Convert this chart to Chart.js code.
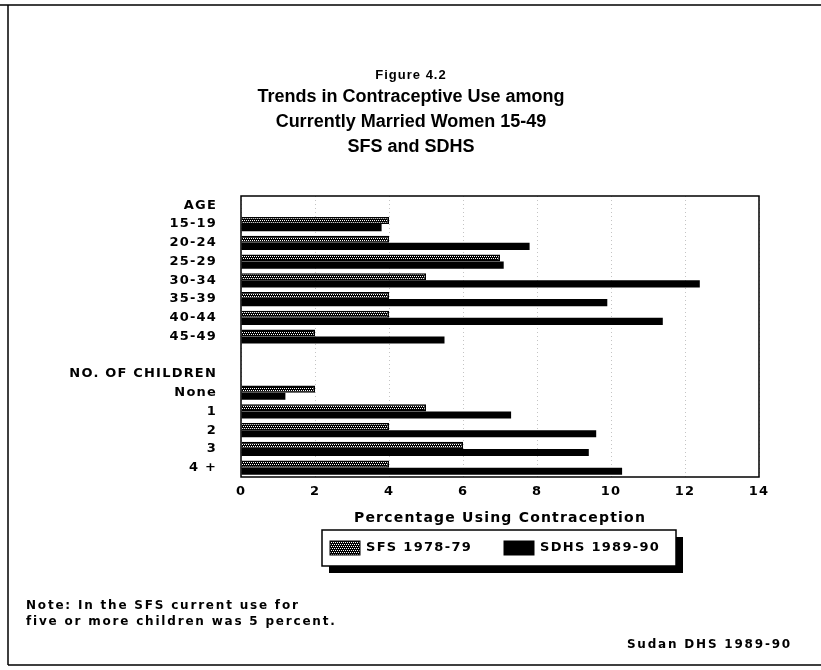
<!DOCTYPE html>
<html>
<head>
<meta charset="utf-8">
<script src="https://cdn.jsdelivr.net/npm/chart.js@4.4.0/dist/chart.umd.min.js"></script>
<style>
  html, body { margin: 0; padding: 0; background: #fff; }
  #contenedor { position: relative; width: 821px; height: 670px; }
</style>
</head>
<body>
<div id="contenedor"><canvas id="graficaUso"></canvas></div>
<script>
// datos
const gruposEdad = ['15-19', '20-24', '25-29', '30-34', '35-39', '40-44', '45-49'];
const gruposHijos = ['None', '1', '2', '3', '4 +'];
const sfsEdad = [4, 4, 7, 5, 4, 4, 2];
const sdhsEdad = [3.8, 7.8, 7.1, 12.4, 9.9, 11.4, 5.5];
const sfsHijos = [2, 5, 4, 6, 4];
const sdhsHijos = [1.2, 7.3, 9.6, 9.4, 10.3];
const ejeX = { min: 0, max: 14, paso: 2 };

const titulos = ['Trends in Contraceptive Use among', 'Currently Married Women 15-49', 'SFS and SDHS'];
const notas = ['Note: In the SFS current use for', 'five or more children was 5 percent.'];
const fuente = 'Sudan DHS 1989-90';

const etiquetas = ['AGE', ...gruposEdad, '', 'NO. OF CHILDREN', ...gruposHijos];
const datosSfs = [null, ...sfsEdad, null, null, ...sfsHijos];
const datosSdhs = [null, ...sdhsEdad, null, null, ...sdhsHijos];

const FAMILIA = '"Liberation Sans", Arial, Helvetica, sans-serif';
const ANCHA = '"DejaVu Sans", Verdana, sans-serif';

function crearTrama() {
    const c = document.createElement('canvas');
    c.width = 4; c.height = 4;
    const g = c.getContext('2d');
    g.fillStyle = '#000';
    g.fillRect(0, 0, 4, 4);
    g.fillStyle = '#fff';
    [[0, 0], [2, 0], [1, 2], [3, 2]].forEach(([x, y]) => g.fillRect(x, y, 1, 1));
    return g.createPattern(c, 'repeat');
}

function escribir(ctx, str, x, y, size, align, espacio, familia) {
    ctx.save();
    ctx.font = `bold ${size}px ${familia || ANCHA}`;
    ctx.letterSpacing = espacio + 'px';
    ctx.textAlign = align;
    ctx.textBaseline = 'middle';
    ctx.fillStyle = '#000';
    ctx.fillText(str, x, y);
    ctx.restore();
}

const marco = {
    id: 'marco',
    beforeDraw(chart) {
        const ctx = chart.ctx;
        ctx.save();
        ctx.fillStyle = '#fff';
        ctx.fillRect(0, 0, chart.width, chart.height);
        ctx.restore();
        ctx.letterSpacing = '1.2px';
    },
    afterDraw(chart) {
        const ctx = chart.ctx;
        const a = chart.chartArea;
        ctx.save();
        ctx.letterSpacing = '0px';
        ctx.strokeStyle = '#000';

        // caja del grafico
        ctx.lineWidth = 1.5;
        ctx.strokeRect(a.left, a.top, a.right - a.left, a.bottom - a.top);

        // marco exterior
        ctx.beginPath();
        ctx.moveTo(0, 5); ctx.lineTo(821, 5);
        ctx.moveTo(8, 5); ctx.lineTo(8, 665);
        ctx.moveTo(8, 665); ctx.lineTo(821, 665);
        ctx.stroke();
        ctx.restore();

        // titulos
        escribir(ctx, 'Figure 4.2', 411, 75, 13, 'center', 1, FAMILIA);
        titulos.forEach((t, i) => escribir(ctx, t, 411, 97 + i * 25, 18, 'center', 0, FAMILIA));

        // leyenda con sombra
        const lx = 322, ly = 530, lw = 354, lh = 36;
        ctx.save();
        ctx.fillStyle = '#000';
        ctx.fillRect(lx + 7, ly + 7, lw, lh);
        ctx.fillStyle = '#fff';
        ctx.fillRect(lx, ly, lw, lh);
        ctx.strokeStyle = '#000';
        ctx.lineWidth = 1.5;
        ctx.strokeRect(lx, ly, lw, lh);
        const posiciones = [330, 504];
        chart.data.datasets.forEach((ds, i) => {
            const x = posiciones[i];
            ctx.fillStyle = ds.backgroundColor;
            ctx.fillRect(x, ly + 11, 30, 14);
            ctx.strokeStyle = '#000';
            ctx.lineWidth = 1;
            ctx.strokeRect(x, ly + 11, 30, 14);
            escribir(ctx, ds.label, x + 36, ly + 18, 13, 'left', 1.3);
        });
        ctx.restore();

        // notas
        notas.forEach((t, i) => escribir(ctx, t, 26, 606 + i * 16, 12, 'left', 1.8));
        escribir(ctx, fuente, 792, 645, 12, 'right', 1.8);
    }
};

const trama = crearTrama();
const ctx = document.getElementById('graficaUso').getContext('2d');

new Chart(ctx, {
    type: 'bar',
    data: {
        labels: etiquetas,
        datasets: [{
            label: 'SFS 1978-79',
            data: datosSfs,
            backgroundColor: trama,
            borderColor: '#000',
            borderWidth: 1.5,
            categoryPercentage: 0.76,
            barPercentage: 1
        }, {
            label: 'SDHS 1989-90',
            data: datosSdhs,
            backgroundColor: '#000',
            borderColor: '#000',
            borderWidth: 0,
            categoryPercentage: 0.76,
            barPercentage: 1
        }]
    },
    options: {
        indexAxis: 'y',
        responsive: true,
        maintainAspectRatio: false,
        animation: false,
        layout: { padding: { top: 196, right: 62, bottom: 137, left: 0 } },
        plugins: {
            legend: { display: false },
            title: { display: false },
            tooltip: { enabled: false }
        },
        scales: {
            x: {
                min: ejeX.min,
                max: ejeX.max,
                ticks: {
                    stepSize: ejeX.paso,
                    color: '#000',
                    font: { family: ANCHA, size: 13, weight: 'bold' },
                    padding: 7,
                    maxRotation: 0
                },
                grid: {
                    color: '#c4c4c4',
                    lineWidth: 1,
                    drawTicks: false
                },
                border: { display: false, dash: [1, 3] },
                title: {
                    display: true,
                    text: 'Percentage Using Contraception',
                    color: '#000',
                    font: { family: ANCHA, size: 14, weight: 'bold' },
                    padding: { top: 0, bottom: 6 }
                },
                afterFit: s => { s.height = 56; }
            },
            y: {
                grid: { display: false },
                border: { display: false },
                ticks: {
                    color: '#000',
                    font: { family: ANCHA, size: 13, weight: 'bold' },
                    padding: 16,
                    autoSkip: false
                },
                afterFit: s => { s.width = 241; }
            }
        }
    },
    plugins: [marco]
});
</script>
</body>
</html>
